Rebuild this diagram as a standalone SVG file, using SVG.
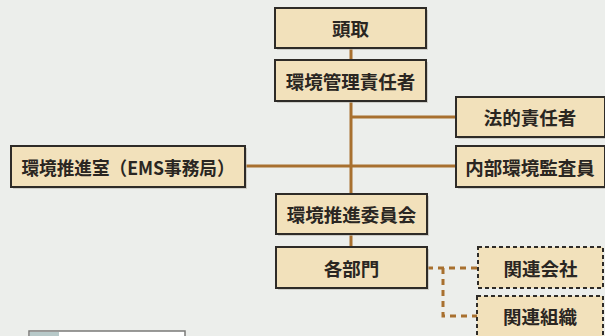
<svg xmlns="http://www.w3.org/2000/svg" width="605" height="336" viewBox="0 0 605 336">
<defs>
<style>
.bg{fill:#eceeeb}
.box{fill:#f2e1bb;stroke:#2e2b27;stroke-width:2}
.dbox{fill:#f2e1bb;stroke:#2e2b27;stroke-width:2;stroke-dasharray:4 3}
.sh{fill:#b9b7b0;opacity:.6}
.t{font-family:"Noto Sans CJK JP","Noto Sans CJK SC",sans-serif;font-size:18.5px;font-weight:bold;fill:#2a2622;text-anchor:middle;dominant-baseline:central}
.ln{stroke:#a8702f;stroke-width:3;fill:none}
.dl{stroke:#a8702f;stroke-width:3;fill:none;stroke-dasharray:6 5}
</style>
</defs>
<rect class="bg" x="0" y="0" width="605" height="336"/>
<g id="connectors">
<line class="ln" x1="351" y1="48" x2="351" y2="247"/>
<line class="ln" x1="351" y1="117" x2="456" y2="117"/>
<line class="ln" x1="245" y1="166" x2="456" y2="166"/>
<path class="dl" d="M427 268 H477"/>
<path class="dl" d="M443 268 V316 H477"/>
</g>
<g id="n1">
<rect class="sh" x="277" y="10" width="151" height="40"/>
<rect class="box" x="275" y="8" width="151" height="40"/>
<text class="t" x="350.5" y="28">頭取</text>
</g>
<g id="n2">
<rect class="sh" x="277" y="62" width="151" height="41"/>
<rect class="box" x="275" y="60" width="151" height="41"/>
<text class="t" x="350.5" y="80.5">環境管理責任者</text>
</g>
<g id="n3">
<rect class="sh" x="458" y="99" width="149" height="40"/>
<rect class="box" x="456" y="97" width="149" height="40"/>
<text class="t" x="530" y="117">法的責任者</text>
</g>
<g id="n4">
<rect class="sh" x="458" y="148" width="149" height="41"/>
<rect class="box" x="456" y="146" width="149" height="41"/>
<text class="t" x="530" y="166.5">内部環境監査員</text>
</g>
<g id="n5">
<rect class="sh" x="13" y="148" width="234" height="41"/>
<rect class="box" x="11" y="146" width="234" height="41"/>
<text class="t" x="128" y="166.5" textLength="213" lengthAdjust="spacingAndGlyphs">環境推進室（EMS事務局）</text>
</g>
<g id="n6">
<rect class="sh" x="278" y="196" width="151" height="40"/>
<rect class="box" x="276" y="194" width="151" height="40"/>
<text class="t" x="351.5" y="214">環境推進委員会</text>
</g>
<g id="n7">
<rect class="sh" x="278" y="249" width="151" height="41"/>
<rect class="box" x="276" y="247" width="151" height="41"/>
<text class="t" x="351.5" y="267.5">各部門</text>
</g>
<g id="n8">
<rect class="dbox" x="478" y="247" width="125" height="41"/>
<text class="t" x="540.5" y="267.5">関連会社</text>
</g>
<g id="n9">
<rect class="dbox" x="477" y="296" width="126" height="44"/>
<text class="t" x="540" y="316">関連組織</text>
</g>
<g id="legend">
<rect x="29" y="331" width="156" height="10" fill="#ffffff" stroke="#7a7a78" stroke-width="1.5"/>
<rect x="30" y="332" width="29" height="8" fill="#b7c9c9"/>
</g>
</svg>
